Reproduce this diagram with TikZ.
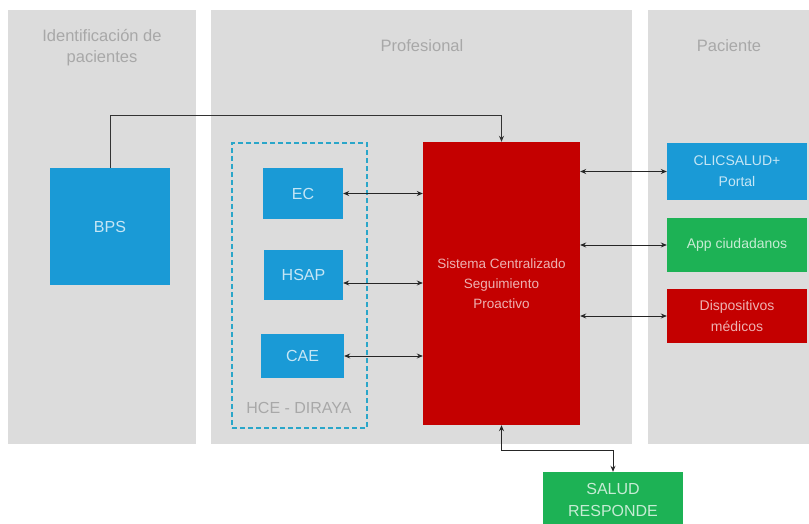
\documentclass[tikz,border=0pt]{standalone}
\usepackage{fontspec}
\setmainfont{Liberation Sans}
\usetikzlibrary{arrows.meta}
\definecolor{panelgrey}{HTML}{DCDCDC}
\definecolor{titlegrey}{HTML}{A8A8A8}
\definecolor{bblue}{HTML}{1A9AD6}
\definecolor{bgreen}{HTML}{1DB255}
\definecolor{bred}{HTML}{C40000}
\definecolor{dashblue}{HTML}{2AA6C9}
\begin{document}
\begin{tikzpicture}[x=1pt,y=-1pt,
  panel/.style={fill=panelgrey,draw=none,inner sep=0pt},
  ptitle/.style={text=titlegrey,font=\fontsize{16.5}{21}\selectfont,align=center},
  box/.style={draw=none,inner sep=0pt,align=center,text=white!88!black,font=\fontsize{14}{21}\selectfont},
  bigtxt/.style={font=\fontsize{16}{22}\selectfont},
  bluebox/.style={box,fill=bblue,text=white!75!bblue},
  greenbox/.style={box,fill=bgreen,text=white!75!bgreen},
  redbox/.style={box,fill=bred,text=white!70!bred},
  conn/.style={draw=black!85,line width=0.8pt,{Stealth[length=6pt,width=5pt]}-{Stealth[length=6pt,width=5pt]}},
  conn1/.style={draw=black!80,line width=0.8pt,-{Stealth[length=6pt,width=5pt]}}]
\useasboundingbox (0,0) rectangle (809,524);
\fill[white] (0,0) rectangle (809,524);
% panels
\node[panel,minimum width=188pt,minimum height=434pt] (p1) at (102,227) {};
\node[panel,minimum width=421pt,minimum height=434pt] (p2) at (421.5,227) {};
\node[panel,minimum width=161pt,minimum height=434pt] (p3) at (728.5,227) {};
\node[ptitle] (t1) at (102,48) {Identificación de\\pacientes};
\node[ptitle] (t2) at (422,46) {Profesional};
\node[ptitle] (t3) at (729,46) {Paciente};
% HCE dashed container
\node[draw=dashblue,line width=2pt,dash pattern=on 5pt off 3pt,minimum width=135pt,minimum height=285pt,inner sep=0pt] (hce) at (299.5,285.5) {};
\node[text=titlegrey,font=\fontsize{16}{20}\selectfont] (hcel) at (299,408) {HCE - DIRAYA};
% nodes
\node[bluebox,bigtxt,minimum width=120pt,minimum height=117pt] (bps) at (110,226.5) {BPS};
\node[bluebox,bigtxt,minimum width=80pt,minimum height=51pt] (ec) at (303,193.5) {EC};
\node[bluebox,bigtxt,minimum width=79pt,minimum height=50pt] (hsap) at (303.5,275) {HSAP};
\node[bluebox,bigtxt,minimum width=83pt,minimum height=44pt] (cae) at (302.5,356) {CAE};
\node[redbox,font=\fontsize{13.5}{20}\selectfont,minimum width=157pt,minimum height=283pt] (sc) at (501.5,283.5) {Sistema Centralizado\\Seguimiento\\Proactivo};
\node[bluebox,minimum width=140pt,minimum height=57pt] (clic) at (737,171.5) {CLICSALUD+\\Portal};
\node[greenbox,minimum width=140pt,minimum height=54pt] (app) at (737,245) {App ciudadanos};
\node[redbox,minimum width=140pt,minimum height=54pt] (disp) at (737,316) {Dispositivos\\médicos};
\node[greenbox,bigtxt,minimum width=140pt,minimum height=56pt,text depth=0pt] (sr) at (613,500) {SALUD\\RESPONDE};
% connectors
\coordinate (top) at (0,115);
\coordinate (bot) at (0,450);
\draw[conn1] (bps.north) -- (bps.north |- top) -| (sc.north);
\draw[conn] (ec.east) -- (ec.east -| sc.west);
\draw[conn] (hsap.east |- 0,283) -- (sc.west |- 0,283);
\draw[conn] (cae.east) -- (cae.east -| sc.west);
\draw[conn] (sc.east |- clic.west) -- (clic.west);
\draw[conn] (sc.east |- app.west) -- (app.west);
\draw[conn] (sc.east |- disp.west) -- (disp.west);
\draw[conn] (sc.south) -- (sc.south |- bot) -| (sr.north);
\end{tikzpicture}
\end{document}
